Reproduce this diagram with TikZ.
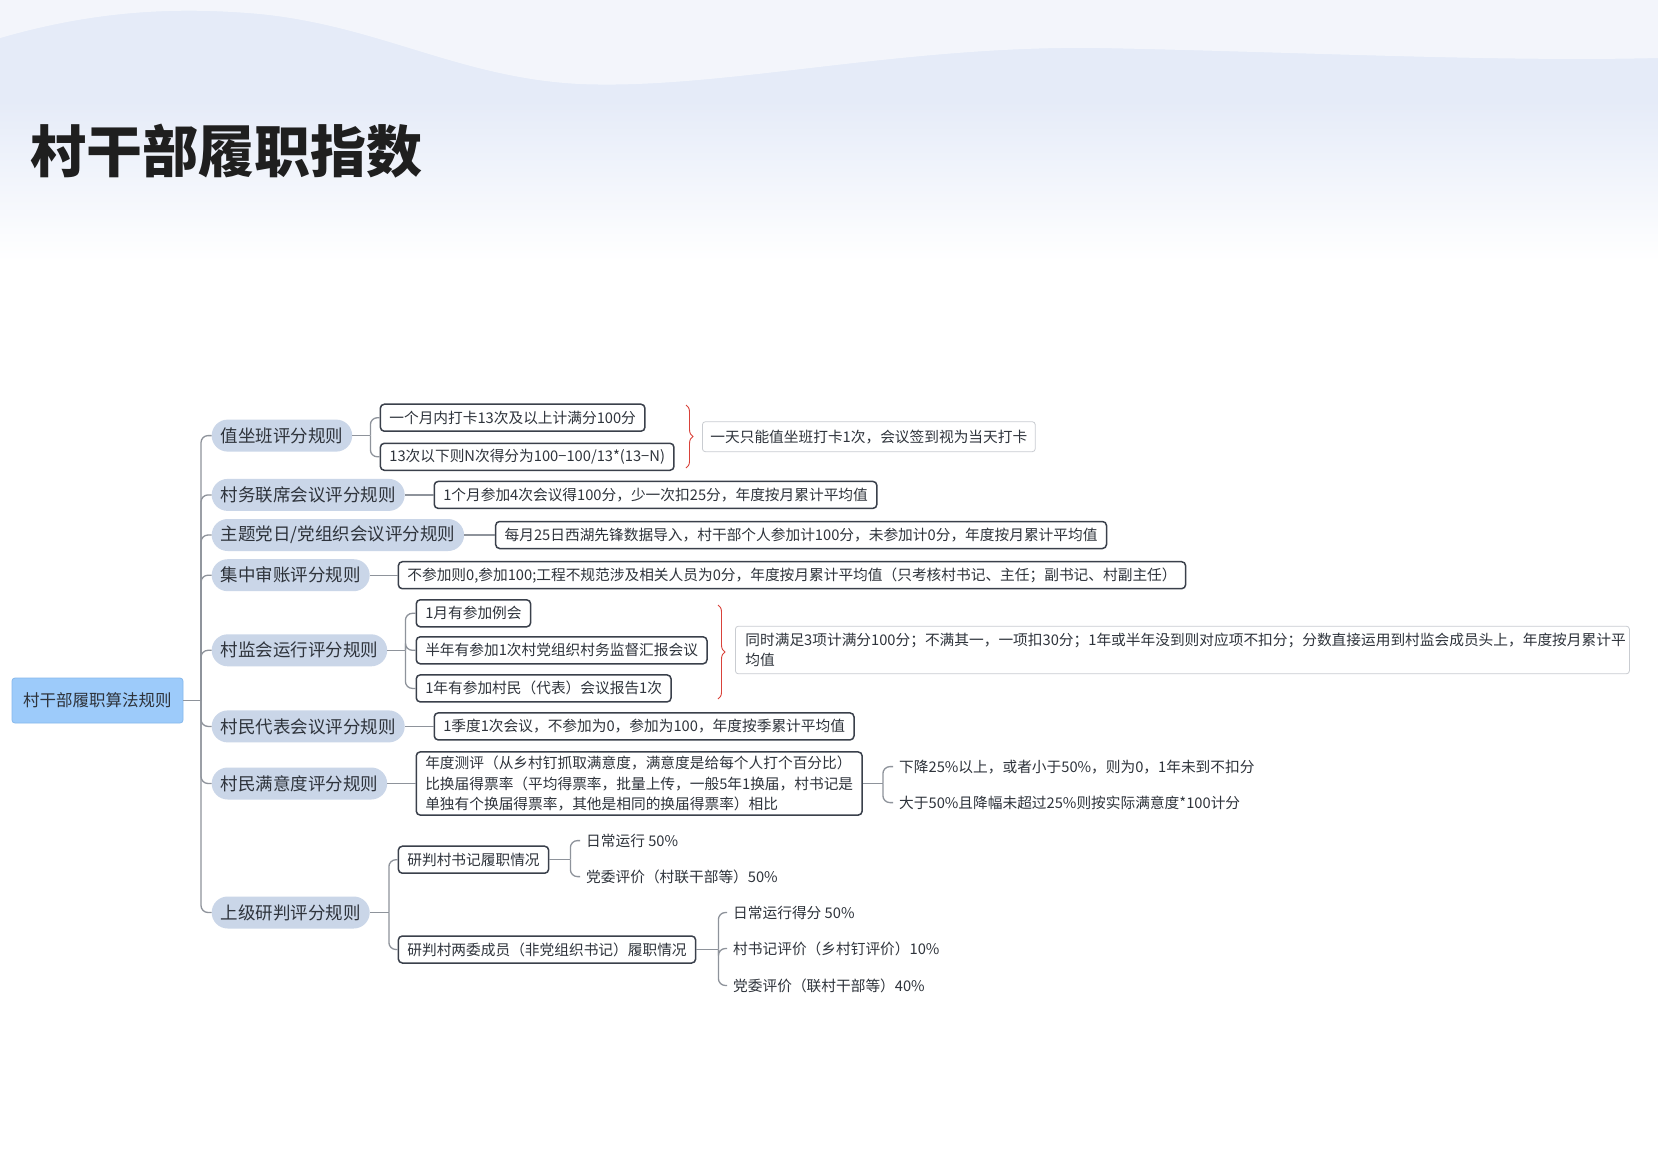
\documentclass[tikz,border=0pt]{standalone}
\usepackage{fontspec}
\setmainfont{Noto Sans CJK SC}
\usetikzlibrary{decorations.pathreplacing}
\definecolor{linegray}{HTML}{8E939B}
\definecolor{boxborder}{HTML}{3A404B}
\definecolor{pill}{HTML}{CAD6E8}
\definecolor{rootfill}{HTML}{9DCBFA}
\definecolor{rootborder}{HTML}{86B8EC}
\definecolor{txt}{HTML}{2E333B}
\definecolor{notegray}{HTML}{C9CCD1}
\definecolor{bracered}{HTML}{D9423A}
\definecolor{bgblue}{HTML}{E5EBF8}
\begin{document}
\begin{tikzpicture}[x=1pt,y=-1pt,
 conn/.style={draw=linegray,line width=1.3pt},
 rconn/.style={conn,rounded corners=7pt},
 lvlone/.style={fill=pill,rounded corners=16pt,minimum height=32pt,inner xsep=9pt,anchor=west,text=txt,font=\fontsize{17.5}{20}\selectfont},
 box/.style={draw=boxborder,line width=1.5pt,fill=white,rounded corners=4pt,minimum height=27pt,inner xsep=9pt,inner ysep=3pt,anchor=west,text=txt,font=\fontsize{14.7}{18}\selectfont},
 note/.style={draw=notegray,line width=0.8pt,fill=white,rounded corners=3pt,anchor=west,text=txt,font=\fontsize{14.7}{20}\selectfont},
 plaintext/.style={anchor=west,inner xsep=6pt,inner ysep=2pt,text=txt,font=\fontsize{14.7}{18}\selectfont},
 brc/.style={draw=bracered,line width=0.9pt,decorate,decoration={brace,amplitude=7pt}},
]
\useasboundingbox (0,0) rectangle (1658,1152);
\fill[white] (0,0) rectangle (1658,1152);
\begin{scope}[y=1pt]
\fill[bgblue] (0,0) rectangle (1658,-101);
\shade[top color=bgblue,bottom color=white] (0,-100) rectangle (1658,-262);
\fill[white,opacity=0.55] (0,0) -- (0,-38) .. controls (90,-12) and (170,-6) .. (260,-14) .. controls (380,-26) and (460,-78) .. (580,-84) .. controls (720,-90) and (900,-45) .. (1100,-48) .. controls (1300,-52) and (1500,-62) .. (1658,-58) -- (1658,0) -- cycle;
\end{scope}
\node[anchor=base west,inner sep=0pt,text=black!88,font=\fontsize{56}{60}\selectfont\bfseries] (title) at (30,172) {村干部履职指数};

\node[draw=rootborder,line width=0.8pt,fill=rootfill,rounded corners=3pt,minimum width=171pt,minimum height=45pt,text=txt,font=\fontsize{16.5}{20}\selectfont] (root) at (97.5,700.5) {村干部履职算法规则};

\node[lvlone] (a1) at (211.5,435.6) {值坐班评分规则};
\node[lvlone] (a2) at (211.5,494.9) {村务联席会议评分规则};
\node[lvlone] (a3) at (211.5,535) {主题党日/党组织会议评分规则};
\node[lvlone] (a4) at (211.5,575.2) {集中审账评分规则};
\node[lvlone] (a5) at (211.5,650.3) {村监会运行评分规则};
\node[lvlone] (a6) at (211.5,726.4) {村民代表会议评分规则};
\node[lvlone] (a7) at (211.5,783.5) {村民满意度评分规则};
\node[lvlone] (a8) at (211.5,912.5) {上级研判评分规则};

\node[box] (b11) at (379.6,417.7) {一个月内打卡13次及以上计满分100分};
\node[box] (b12) at (379.6,456.8) {13次以下则N次得分为100−100/13*(13−N)};
\node[box] (b2) at (433.5,494.9) {1个月参加4次会议得100分，少一次扣25分，年度按月累计平均值};
\node[box] (b3) at (494.9,535) {每月25日西湖先锋数据导入，村干部个人参加计100分，未参加计0分，年度按月累计平均值};
\node[box] (b4) at (397.6,575.2) {不参加则0,参加100;工程不规范涉及相关人员为0分，年度按月累计平均值（只考核村书记、主任；副书记、村副主任）};
\node[box] (b51) at (415.5,613.3) {1月有参加例会};
\node[box] (b52) at (415.5,650.3) {半年有参加1次村党组织村务监督汇报会议};
\node[box] (b53) at (415.5,688.4) {1年有参加村民（代表）会议报告1次};
\node[box] (b6) at (433.5,726.4) {1季度1次会议，不参加为0，参加为100，年度按季累计平均值};
\node[box,align=left,font=\fontsize{14.7}{20.5}\selectfont,inner ysep=4pt] (b7) at (415.5,783.5) {年度测评（从乡村钉抓取满意度，满意度是给每个人打个百分比）\\比换届得票率（平均得票率，批量上传，一般5年1换届，村书记是\\单独有个换届得票率，其他是相同的换届得票率）相比};
\node[box] (b81) at (397.6,859.7) {研判村书记履职情况};
\node[box] (b82) at (397.6,949.5) {研判村两委成员（非党组织书记）履职情况};

\node[note,minimum height=30pt,inner xsep=8pt] (n1) at (702,436.7) {一天只能值坐班打卡1次，会议签到视为当天打卡};
\node[note,text width=874pt,inner xsep=10pt,inner ysep=5pt,align=left,minimum height=47.6pt] (n2) at (735,650) {同时满足3项计满分100分；不满其一，一项扣30分；1年或半年没到则对应项不扣分；分数直接运用到村监会成员头上，年度按月累计平\\均值};

\node[plaintext] (c71) at (893,766.6) {下降25\%以上，或者小于50\%，则为0，1年未到不扣分};
\node[plaintext] (c72) at (893,802.6) {大于50\%且降幅未超过25\%则按实际满意度*100计分};
\node[plaintext] (c811) at (580,840.6) {日常运行 50\%};
\node[plaintext] (c812) at (580,876.6) {党委评价（村联干部等）50\%};
\node[plaintext] (c821) at (727,912.5) {日常运行得分 50\%};
\node[plaintext] (c822) at (727,948.5) {村书记评价（乡村钉评价）10\%};
\node[plaintext] (c823) at (727,985.5) {党委评价（联村干部等）40\%};

% braces
\draw[brc] (686,405) -- (686,468);
\draw[brc] (718,605) -- (718,699);

% trunk
\coordinate (t0) at (201,700.5);
\draw[conn] (root.east) -- (t0);
\foreach \n in {a1,a2,a3,a4,a5,a6,a7,a8} \draw[rconn] (t0) |- (\n.west);

% level 2
\coordinate (f1) at ([xshift=18pt]a1.east);
\draw[conn] (a1.east) -- (f1);
\draw[rconn] (f1) |- (b11.west);
\draw[rconn] (f1) |- (b12.west);
\draw[conn] (a2.east) -- (b2.west);
\draw[conn] (a3.east) -- (b3.west);
\draw[conn] (a4.east) -- (b4.west);
\coordinate (f5) at ([xshift=18pt]a5.east);
\draw[conn] (a5.east) -- (f5);
\foreach \n in {b51,b52,b53} \draw[rconn] (f5) |- (\n.west);
\draw[conn] (a6.east) -- (b6.west);
\draw[conn] (a7.east) -- (b7.west);
\coordinate (f7) at ([xshift=20pt]b7.east);
\draw[conn] (b7.east) -- (f7);
\foreach \n in {c71,c72} \draw[rconn] (f7) |- (\n.west);
\coordinate (f8) at ([xshift=19pt]a8.east);
\draw[conn] (a8.east) -- (f8);
\foreach \n in {b81,b82} \draw[rconn] (f8) |- (\n.west);
\coordinate (f81) at ([xshift=21pt]b81.east);
\draw[conn] (b81.east) -- (f81);
\foreach \n in {c811,c812} \draw[rconn] (f81) |- (\n.west);
\coordinate (f82) at ([xshift=22pt]b82.east);
\draw[conn] (b82.east) -- (f82);
\foreach \n in {c821,c822,c823} \draw[rconn] (f82) |- (\n.west);
\end{tikzpicture}
\end{document}
